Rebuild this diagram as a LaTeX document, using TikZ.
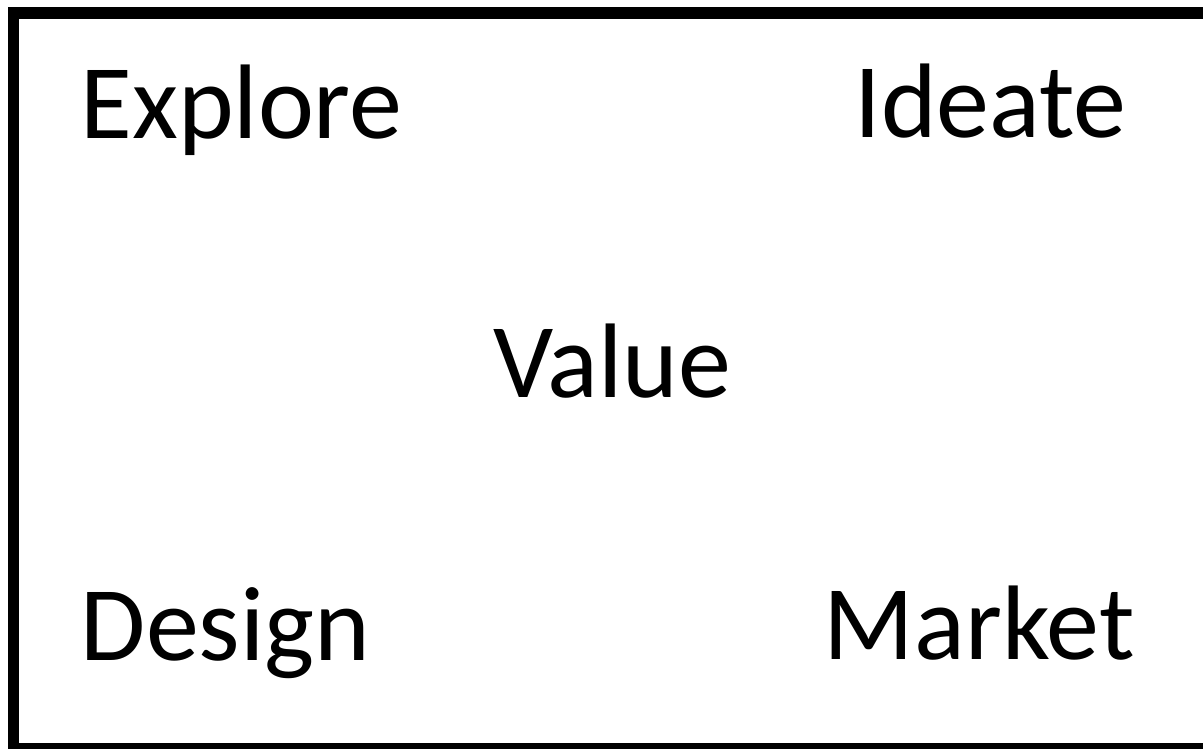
\documentclass[tikz,border=0pt]{standalone}
\usepackage{fontspec}
\setmainfont{Carlito}
\begin{document}
\begin{tikzpicture}[x=1pt,y=1pt,
  word/.style={inner sep=0pt, anchor=base, font=\fontsize{106}{124}\selectfont}]
  \useasboundingbox (0,0) rectangle (1203,748);
  \clip (0,0) rectangle (1203,748);
  % frame, running past the right and bottom edges
  \draw[line width=11.5pt] (13.5,735) -- (1220,735);
  \draw[line width=11.5pt] (13.5,740.75) -- (13.5,-20);
  \draw[line width=11.5pt] (13.5,-0.5) -- (1220,-0.5);
  % the five words
  \node[word] (explore) at (241.5,609) {Explore};
  \node[word] (ideate)  at (990.5,610) {Ideate};
  \node[word] (value)   at (612,350)   {Value};
  \node[word] (design)  at (225.5,88)  {Design};
  \node[word] (market)  at (979,89)    {Market};
\end{tikzpicture}
\end{document}
